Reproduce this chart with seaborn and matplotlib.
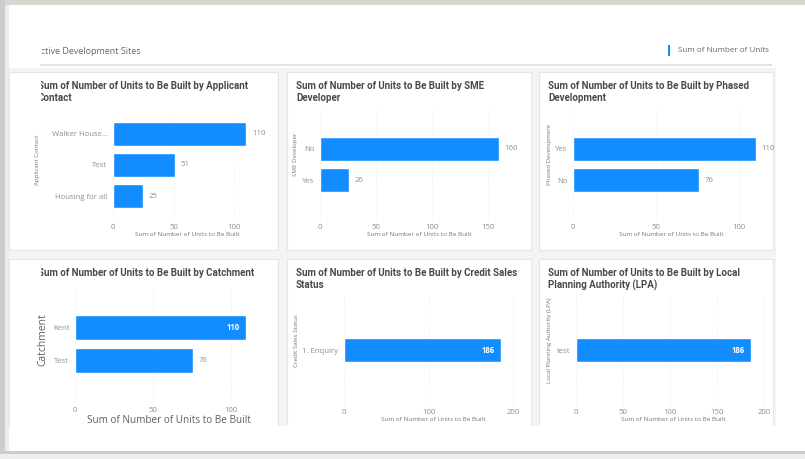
import matplotlib
matplotlib.use('Agg')
import matplotlib.pyplot as plt
import seaborn as sns
from matplotlib.patches import Rectangle
from matplotlib.transforms import Bbox

applicant_contact = ["Walker House...", "Test", "Housing for all"]
applicant_units = [110, 51, 25]
sme_developer = ["No", "Yes"]
sme_units = [160, 26]
phased_development = ["Yes", "No"]
phased_units = [110, 76]
catchment = ["Kent", "Test"]
catchment_units = [110, 76]
credit_sales_status = ["1. Enquiry"]
credit_units = [186]
lpa = ["test"]
lpa_units = [186]

W, H = 805, 459
BLUE = "#118DFF"
sns.set_theme(style="white")
plt.rcParams['font.family'] = ['Open Sans', 'DejaVu Sans']

fig = plt.figure(figsize=(W / 100, H / 100), dpi=100)
fig.patch.set_facecolor("white")


def rect_px(x0, y0, x1, y1, **kw):
    r = Rectangle((x0 / W, 1 - y1 / H), (x1 - x0) / W, (y1 - y0) / H,
                  transform=fig.transFigure, **kw)
    fig.patches.append(r)
    return r


def text_px(x, y, s, clip=None, **kw):
    t = fig.text(x / W, 1 - y / H, s, **kw)
    if clip is not None:
        t.set_clip_box(Bbox.from_extents(clip, 0, W, H))
        t.set_clip_on(True)
    return t


# frame of the screenshot
rect_px(9, 68, 776, 426, facecolor="#f4f4f4", edgecolor="none", zorder=-3)
rect_px(0, 0, W, 5, facecolor="#d9d7cf", edgecolor="none", zorder=-3)
rect_px(0, 0, 5, 452, facecolor="#cdcdcd", edgecolor="none", zorder=-3)
rect_px(5, 5, 9, 452, facecolor="#ececec", edgecolor="none", zorder=-3)
rect_px(0, 451, W, 454, facecolor="#cbcbcb", edgecolor="none", zorder=6)
rect_px(0, 454, W, H, facecolor="#efefef", edgecolor="none", zorder=6)

# header
text_px(35, 52, "Active Development Sites", clip=41.5, fontsize=6.5, color="#666666",
        va="center", zorder=7)
rect_px(40, 64.5, 772, 65.5, facecolor="#e2e2e2", edgecolor="none", zorder=-2)
rect_px(668, 45, 670, 56, facecolor=BLUE, edgecolor="none")
text_px(678, 50.5, "Sum of Number of Units", fontsize=5.8, color="#666666", va="center")

cards = [
    # title lines, cats, values, y label, card box, axes box, ylim, xmax, ticks, inside label, ylabel x
    (["Sum of Number of Units to Be Built by Applicant", "Contact"],
     applicant_contact, applicant_units, "Applicant Contact",
     (9, 72, 278, 250), (113, 118, 262, 221), (2.79, -0.5), 123, [0, 50, 100], False, 37),
    (["Sum of Number of Units to Be Built by SME", "Developer"],
     sme_developer, sme_units, "SME Developer",
     (287, 72, 531, 250), (320, 108, 518, 221), (2.32, -1.32), 177, [0, 50, 100, 150], False, 295),
    (["Sum of Number of Units to Be Built by Phased", "Development"],
     phased_development, phased_units, "Phased Development",
     (539, 72, 773, 250), (573, 108, 770, 221), (2.32, -1.32), 118.7, [0, 50, 100], False, 549),
    (["Sum of Number of Units to Be Built by Catchment"],
     catchment, catchment_units, "Catchment",
     (9, 259, 278, 470), (75, 288, 262, 404), (2.32, -1.2), 120, [0, 50, 100], True, 43),
    (["Sum of Number of Units to Be Built by Credit Sales", "Status"],
     credit_sales_status, credit_units, "Credit Sales Status",
     (287, 259, 531, 470), (344, 295, 522, 406), (1.77, -1.74), 210.6, [0, 100, 200], True, 296),
    (["Sum of Number of Units to Be Built by Local", "Planning Authority (LPA)"],
     lpa, lpa_units, "Local Planning Authority (LPA)",
     (539, 259, 773, 470), (576, 295, 770, 406), (1.77, -1.74), 206, [0, 50, 100, 150, 200], True, 549),
]

for i, (title, cats, vals, ylab, card, box, ylim, xmax, ticks, inside, ylab_x) in enumerate(cards):
    cx0, cy0, cx1, cy1 = card
    rect_px(cx0, cy0, cx1, cy1, facecolor="white", edgecolor="#e6e6e6", lw=0.8, zorder=-1)
    big = i == 3
    for k, line in enumerate(title):
        text_px(cx0 + 9 if cx0 > 100 else 38, cy0 + 14 + k * 12, line,
                clip=41 if cx0 < 100 else None,
                fontsize=7.0, fontweight="semibold", color="#4a4a4a",
                family=["Roboto", "DejaVu Sans"], va="center")

    x0, y0, x1, y1 = box
    ax = fig.add_axes([x0 / W, 1 - y1 / H, (x1 - x0) / W, (y1 - y0) / H])
    sns.barplot(x=vals, y=cats, orient="h", color=BLUE, saturation=1,
                width=0.76, ax=ax)
    ax.set_facecolor("none")
    ax.set_xlim(0, xmax)
    ax.set_ylim(*ylim)
    ax.set_xticks(ticks)
    ax.set_xticklabels([str(t) for t in ticks])
    for s in ax.spines.values():
        s.set_visible(False)
    ax.xaxis.grid(True, color="#e8e8e8", lw=0.6, ls=(0, (1, 2)))
    ax.set_axisbelow(True)
    ax.tick_params(axis="x", length=0, pad=2, labelsize=5.6, labelcolor="#8f8f8f")
    ax.tick_params(axis="y", length=0, pad=4, labelsize=5.6, labelcolor="#8f8f8f")
    ax.set_xlabel("Sum of Number of Units to Be Built", fontsize=7.2 if big else 4.6,
                  color="#606060" if big else "#777777", labelpad=1)
    ax.set_ylabel("")
    text_px(ylab_x, (y0 + y1) / 2 - 10 if not big else 340, ylab,
            fontsize=7.4 if big else 4.4, color="#606060" if big else "#777777",
            rotation=90, ha="center", va="center")

    for j, v in enumerate(vals):
        if inside and v == max(vals):
            ax.annotate(str(v), (v, j), xytext=(-5, 0), textcoords="offset points",
                        ha="right", va="center", fontsize=5.6, color="white",
                        fontweight="bold")
        else:
            ax.annotate(str(v), (v, j), xytext=(4, 0), textcoords="offset points",
                        ha="left", va="center", fontsize=5.6, color="#8f8f8f")

# the screenshot cuts the lower row of cards
rect_px(9, 426, W, 451, facecolor="white", edgecolor="none", zorder=5)
rect_px(776, 68, W, 451, facecolor="white", edgecolor="none", zorder=5)

plt.savefig("out.png", dpi=100)
